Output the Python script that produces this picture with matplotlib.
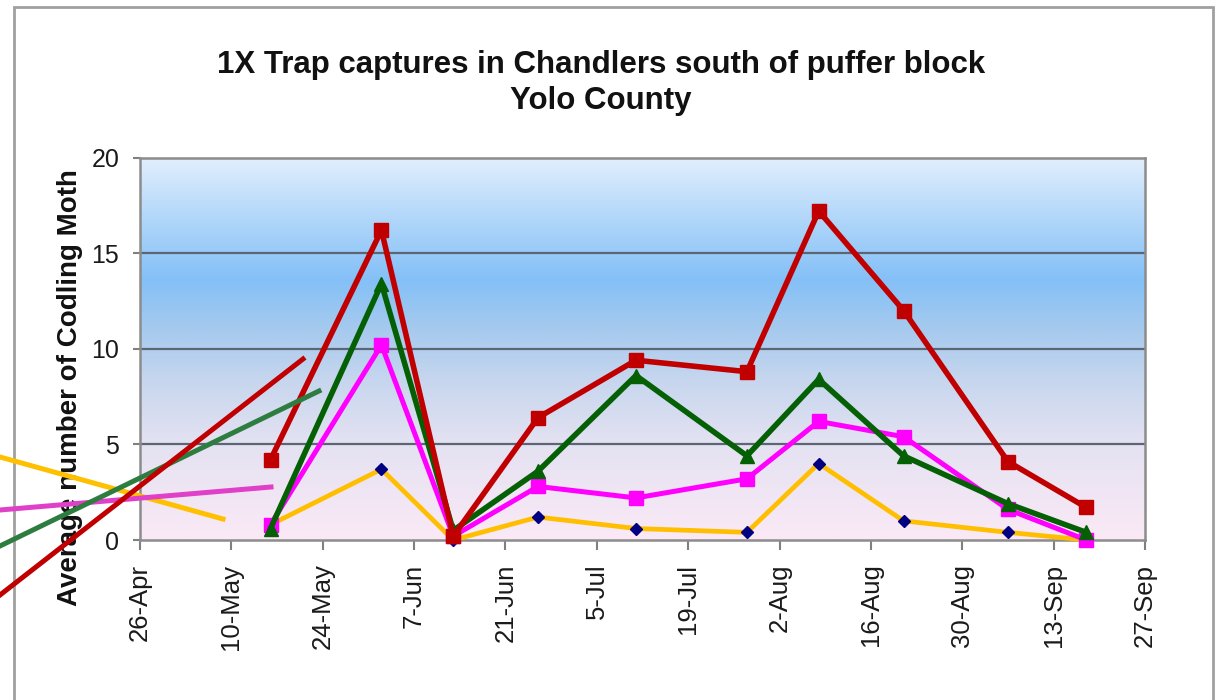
import matplotlib
matplotlib.use('Agg')
import matplotlib.pyplot as plt
import matplotlib.dates as mdates
from matplotlib.colors import LinearSegmentedColormap
from matplotlib.patches import Rectangle
from matplotlib.lines import Line2D
import numpy as np
import pandas as pd

plt.rcParams['font.family'] = ['Liberation Sans', 'DejaVu Sans']

# trap check dates
dates = pd.to_datetime(['2008-05-16', '2008-06-02', '2008-06-13', '2008-06-26', '2008-07-11',
                        '2008-07-28', '2008-08-08', '2008-08-21', '2008-09-06', '2008-09-18'])
red_vals = [4.2, 16.2, 0.2, 6.4, 9.4, 8.8, 17.2, 12.0, 4.1, 1.7]
green_vals = [0.6, 13.4, 0.5, 3.6, 8.6, 4.4, 8.4, 4.4, 1.9, 0.4]
magenta_vals = [0.8, 10.2, 0.2, 2.8, 2.2, 3.2, 6.2, 5.4, 1.6, 0.0]
yellow_vals = [0.8, 3.7, 0.0, 1.2, 0.6, 0.4, 4.0, 1.0, 0.4, 0.0]

tick_dates = pd.date_range('2008-04-26', '2008-09-27', freq='14D')
yticks = [0, 5, 10, 15, 20]

W, H = 1215, 700
fig = plt.figure(figsize=(W / 100, H / 100), dpi=100)
fig.patch.set_facecolor('white')

def fx(px):
    return px / W

def fy(py):
    return 1 - py / H

ax = fig.add_axes([fx(140), fy(540), fx(1145) - fx(140), fy(157.5) - fy(540)])

# plot area gradient
cmap = LinearSegmentedColormap.from_list('bg', [
    (0.0, '#fbe9f6'), (0.25, '#e4e2f2'), (0.42, '#c6d6ee'), (0.55, '#a6caee'),
    (0.68, '#84c0f7'), (0.85, '#b4d8fa'), (1.0, '#e2effd')])
grad = np.linspace(0, 1, 256).reshape(-1, 1)
ax.imshow(grad, extent=[0, 1, 0, 1], transform=ax.transAxes, origin='lower',
          aspect='auto', cmap=cmap, zorder=0)

for y in yticks[1:-1]:
    ax.axhline(y, color='#5c6672', lw=1.6, zorder=1)

ax.plot(dates, yellow_vals, color='#ffbf00', lw=3.4, marker='D', ms=6,
        mfc='#000080', mec='#000080', clip_on=False, zorder=3)
ax.plot(dates, magenta_vals, color='#ff00ff', lw=3.6, marker='s', ms=9.5,
        mfc='#ff00ff', mec='#ff00ff', clip_on=False, zorder=4)
ax.plot(dates, green_vals, color='#056005', lw=4, marker='^', ms=10,
        mfc='#056005', mec='#056005', clip_on=False, zorder=5)
ax.plot(dates, red_vals, color='#c00000', lw=4, marker='s', ms=10,
        mfc='#c00000', mec='#c00000', clip_on=False, zorder=6)

ax.set_xlim(tick_dates[0], tick_dates[-1])
ax.set_ylim(0, 20)
ax.set_xticks(tick_dates)
ax.xaxis.set_major_formatter(mdates.DateFormatter('%-d-%b'))
ax.set_yticks(yticks)
ax.tick_params(axis='x', rotation=90, labelsize=18.5, length=7, width=1.5,
               color='#808080', pad=10, labelcolor='#1a1a1a')
ax.tick_params(axis='y', labelsize=18, length=5, width=1.5,
               color='#808080', pad=10, labelcolor='#1a1a1a')
for s in ax.spines.values():
    s.set_color('#8c8c8c')
    s.set_linewidth(1.8)

fig.text(fx(601), fy(83), '1X Trap captures in Chandlers south of puffer block\nYolo County',
         ha='center', va='center', fontsize=22.5, fontweight='bold', linespacing=1.3,
         color='#111111')
fig.text(fx(70), fy(388), 'Average number of Codling Moth', rotation=90,
         ha='center', va='center', fontsize=20, fontweight='bold', color='#111111')

# outer chart border
fig.add_artist(Rectangle((fx(14), fy(720)), fx(1213) - fx(14), fy(7) - fy(720),
                         transform=fig.transFigure, fill=False, ec='#a0a0a0', lw=2))

# stray legend leader lines
for (x0, y0, x1, y1, c) in [(0, 457, 223, 519, '#ffc000'),
                            (0, 510, 271, 487, '#e040c8'),
                            (0, 546, 319, 391, '#2e7d40'),
                            (0, 595, 303, 359, '#c00000')]:
    fig.add_artist(Line2D([fx(x0), fx(x1)], [fy(y0), fy(y1)], transform=fig.transFigure,
                          color=c, lw=3.6, zorder=10))

fig.savefig('out.png', dpi=100)
